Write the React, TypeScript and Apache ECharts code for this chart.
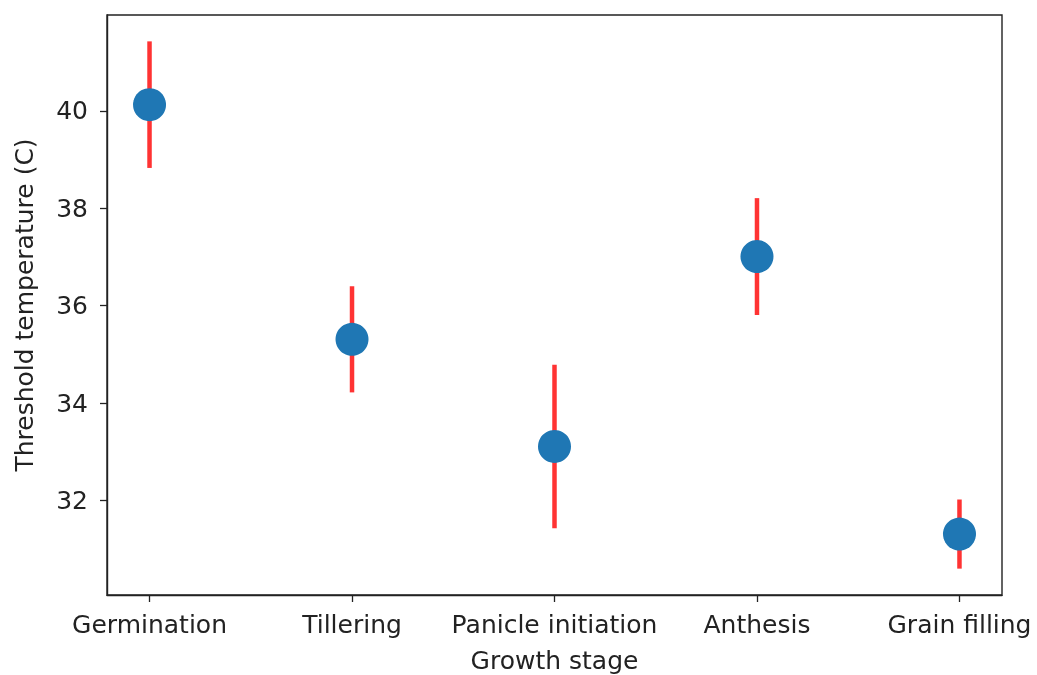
import React, { useEffect, useRef } from "react";
import * as echarts from "echarts";

// Growth stages along the x axis
const stages = ["Germination", "Tillering", "Panicle initiation", "Anthesis", "Grain filling"];
// Mean threshold temperature (°C) per stage
const thresholds = [40.13, 35.31, 33.11, 37.01, 31.31];
// Half-width of the error bar per stage
const errors = [1.3, 1.09, 1.68, 1.2, 0.71];
// Y tick values
const yTicks = [32, 34, 36, 38, 40];

const FONT = "DejaVu Sans";
const TEXT = "#222";

export default function App() {
  const ref = useRef<HTMLDivElement>(null);

  useEffect(() => {
    document.body.style.margin = "0";
    const chart = echarts.init(ref.current!, null, { renderer: "svg" });

    const idx = stages.map((_, i) => i);
    const lows = thresholds.map((v, i) => v - errors[i]);
    const highs = thresholds.map((v, i) => v + errors[i]);
    const lo = Math.min(...lows);
    const hi = Math.max(...highs);
    const pad = (hi - lo) * 0.05;
    const xPad = (stages.length - 1) * 0.0525;

    const errData = idx.map((i) => [i, lows[i], highs[i]]);
    const ptData = idx.map((i) => [i, thresholds[i]]);

    chart.setOption({
      animation: false,
      grid: {
        left: 107,
        right: 35,
        top: 15,
        bottom: 80,
        outerBoundsMode: "none",
        show: true,
        borderColor: "#222",
        borderWidth: 1.4,
        backgroundColor: "transparent",
      },
      xAxis: {
        type: "value",
        min: -xPad,
        max: stages.length - 1 + xPad,
        name: "Growth stage",
        nameLocation: "middle",
        nameGap: 53,
        nameTextStyle: { fontFamily: FONT, fontSize: 25, color: TEXT },
        axisLine: { show: true, onZero: false, lineStyle: { color: "#222", width: 1.4 } },
        axisTick: {
          show: true,
          length: 7,
          customValues: idx,
          lineStyle: { color: "#222", width: 1.3 },
        },
        axisLabel: {
          customValues: idx,
          margin: 17,
          fontFamily: FONT,
          fontSize: 25,
          color: TEXT,
          formatter: (v: number) => stages[Math.round(v)] ?? "",
        },
        splitLine: { show: false },
      },
      yAxis: {
        type: "value",
        min: lo - pad,
        max: hi + pad,
        name: "Threshold temperature (C)",
        nameLocation: "middle",
        nameGap: 70,
        nameTextStyle: { fontFamily: FONT, fontSize: 25, color: TEXT },
        axisLine: { show: true, onZero: false, lineStyle: { color: "#222", width: 1.4 } },
        axisTick: {
          show: true,
          length: 7,
          customValues: yTicks,
          lineStyle: { color: "#222", width: 1.3 },
        },
        axisLabel: {
          customValues: yTicks,
          margin: 19,
          fontFamily: FONT,
          fontSize: 25,
          color: TEXT,
        },
        splitLine: { show: false },
      },
      series: [
        {
          type: "custom",
          z: 1,
          data: errData,
          renderItem: (_params: any, api: any) => {
            const a = api.coord([api.value(0), api.value(1)]);
            const b = api.coord([api.value(0), api.value(2)]);
            return {
              type: "line",
              shape: { x1: a[0], y1: a[1], x2: b[0], y2: b[1] },
              style: { stroke: "#ff3333", lineWidth: 4.5 },
            };
          },
        },
        {
          type: "scatter",
          z: 2,
          data: ptData,
          symbol: "circle",
          symbolSize: 33,
          itemStyle: { color: "#1f77b4", opacity: 1 },
        },
      ],
    });

    return () => chart.dispose();
  }, []);

  return (
    <div
      ref={ref}
      style={{ position: "fixed", left: 0, top: 0, width: 1037, height: 675 }}
    />
  );
}
